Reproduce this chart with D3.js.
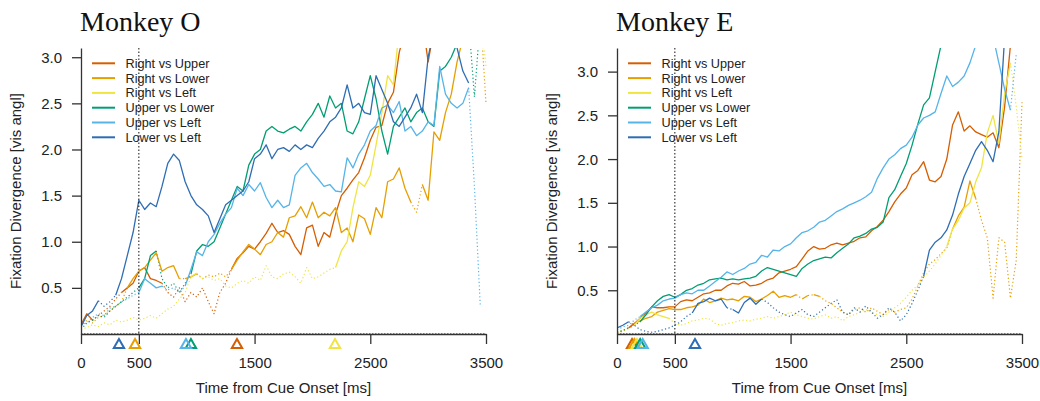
<!DOCTYPE html>
<html>
<head>
<meta charset="utf-8">
<script src="https://cdnjs.cloudflare.com/ajax/libs/d3/7.8.5/d3.min.js"></script>
<style>
body { margin: 0; background: #fff; }
svg text { font-family: "Liberation Sans", Arial, sans-serif; fill: #222; }
</style>
</head>
<body>
<svg id="chart" width="1040" height="401"></svg>
<script>
// time grid [ms]
var times = [0,50,100,150,200,250,300,350,400,450,500,550,600,650,700,750,800,850,900,950,
  1000,1050,1100,1150,1200,1250,1300,1350,1400,1450,1500,1550,1600,1650,1700,1750,1800,1850,1900,1950,
  2000,2050,2100,2150,2200,2250,2300,2350,2400,2450,2500,2550,2600,2650,2700,2750,2800,2850,2900,2950,
  3000,3050,3100,3150,3200,3250,3300,3350,3400,3450,3500];

var seriesNames = ["Right vs Upper", "Right vs Lower", "Right vs Left", "Upper vs Lower", "Upper vs Left", "Lower vs Left"];
var seriesColors = ["#D55E00", "#E69F00", "#F0E442", "#009E73", "#56B4E9", "#2E6DB4"];

var xTicks = [0, 500, 1500, 2500, 3500];
var yTicks = [0.5, 1.0, 1.5, 2.0, 2.5, 3.0];

// ---- Monkey O : fixation divergence [vis angl]
var O_RvU = [0.10,0.22,0.15,0.20,0.25,0.30,0.38,0.45,0.50,0.55,
  0.68,0.72,0.60,0.58,0.55,0.45,0.40,0.50,0.35,0.45,
  0.40,0.50,0.35,0.22,0.45,0.55,0.70,0.82,0.88,0.95,
  0.92,1.00,1.09,1.20,1.10,1.12,1.08,0.95,0.86,1.15,
  1.18,0.95,1.10,1.05,1.30,1.50,1.58,1.67,1.75,1.91,
  2.10,2.24,2.26,2.50,2.62,3.05,3.30,3.50,3.60,3.40,
  2.95,3.30,3.60,null,null,null,null,null,null,null,null];
var O_RvL = [0.08,0.15,0.12,0.18,0.20,0.25,0.30,0.35,0.50,0.60,
  0.68,0.72,0.80,0.88,0.68,0.72,0.74,0.60,0.60,0.62,
  0.65,0.60,0.64,0.62,0.66,0.62,0.70,0.80,0.89,0.97,
  0.92,0.86,0.97,1.00,1.10,1.05,1.26,1.28,1.38,1.26,
  1.43,1.26,1.32,1.28,1.37,1.10,1.15,1.00,1.29,1.25,
  1.08,1.37,1.26,1.65,1.68,1.80,1.58,1.43,1.32,1.62,
  1.45,2.19,2.10,2.40,2.60,2.95,3.20,3.50,3.60,3.50,2.50];
var O_RvLe = [0.05,0.07,0.10,0.08,0.12,0.10,0.15,0.13,0.15,0.18,
  0.15,0.17,0.20,0.17,0.22,0.27,0.30,0.38,0.45,0.62,
  0.66,0.60,0.62,0.58,0.60,0.52,0.50,0.55,0.58,0.55,
  0.62,0.58,0.74,0.62,0.60,0.65,0.67,0.62,0.55,0.72,
  0.60,0.62,0.66,0.70,0.72,0.90,1.00,1.37,1.65,1.60,
  1.72,2.05,2.40,2.80,2.70,3.30,3.50,null,null,null,
  null,null,null,null,null,null,null,null,null,3.50,2.90];
var O_UvL = [0.05,0.12,0.15,0.20,0.18,0.25,0.30,0.35,0.40,0.45,
  0.50,0.60,0.85,0.90,0.60,0.50,0.55,0.45,0.55,0.65,
  0.90,0.97,0.95,1.00,1.15,1.30,1.45,1.60,1.55,1.83,
  1.95,2.00,2.20,2.25,2.20,2.18,2.22,2.25,2.20,2.30,
  2.38,2.50,2.35,2.58,2.45,2.50,2.20,2.17,2.30,2.55,
  2.80,2.55,2.20,1.95,2.25,2.35,2.45,2.30,2.40,2.45,
  2.30,2.25,2.85,2.90,3.00,3.15,3.30,3.40,2.57,3.40,null];
var O_UvLe = [0.10,0.12,0.18,0.22,0.20,0.28,0.30,0.35,0.38,0.42,
  0.45,0.60,0.55,0.50,0.52,0.48,0.50,0.45,0.52,0.70,
  0.89,0.85,1.00,1.08,1.20,1.30,1.37,1.58,1.50,1.62,
  1.55,1.64,1.48,1.37,1.45,1.37,1.40,1.72,1.80,1.85,
  1.75,1.68,1.60,1.62,1.55,1.54,1.91,1.80,1.95,2.05,
  2.20,2.26,2.45,2.48,2.40,2.52,2.20,2.25,2.15,2.20,
  2.30,2.26,2.90,2.60,2.50,2.45,2.50,2.67,1.60,0.32,null];
var O_LvL = [0.08,0.20,0.25,0.36,0.30,0.35,0.42,0.60,0.85,1.10,
  1.45,1.35,1.42,1.38,1.60,1.85,1.95,1.88,1.65,1.50,
  1.40,1.35,1.28,1.10,1.25,1.40,1.45,1.50,1.55,1.65,
  1.90,1.95,2.05,1.90,2.00,2.02,1.98,2.05,2.00,2.05,
  2.02,2.12,2.20,2.30,2.35,2.45,2.70,2.45,2.50,2.40,
  2.38,2.80,2.65,2.50,2.30,2.25,2.35,2.45,2.60,2.40,
  3.00,3.30,3.40,3.50,3.30,3.10,2.85,2.72,null,null,null];

// significant stretches (drawn solid), [from, to] in ms
var O_sig = [
  [[0,80],[330,700],[1300,3150]],
  [[390,860],[880,1010],[1300,2870],[2930,3420]],
  [[930,1010],[2190,3400]],
  [[520,660],[940,3320]],
  [[520,720],[900,3350]],
  [[0,170],[320,3360]]
];
var O_onset = [1348, 467, 2195, 950, 907, 328];

// ---- Monkey E
var E_RvU = [0.02,0.03,0.07,0.12,0.18,0.24,0.31,0.30,0.30,0.31,
  0.31,0.37,0.39,0.38,0.42,0.46,0.47,0.50,0.50,0.55,
  0.58,0.57,0.60,0.55,0.56,0.58,0.62,0.64,0.70,0.72,
  0.74,0.77,0.86,0.95,1.00,0.97,0.98,1.02,1.04,1.02,
  1.04,1.06,1.10,1.11,1.18,1.23,1.30,1.40,1.51,1.60,
  1.67,1.82,1.87,1.97,1.76,1.74,1.80,2.00,2.39,2.54,
  2.32,2.38,2.31,2.28,2.25,2.30,2.13,2.60,3.30,3.50,null];
var E_RvL = [0.02,0.04,0.07,0.12,0.15,0.18,0.20,0.25,0.27,0.29,
  0.28,0.28,0.30,0.31,0.33,0.40,0.36,0.38,0.41,0.39,
  0.40,0.38,0.43,0.42,0.37,0.40,0.44,0.49,0.42,0.44,
  0.42,0.45,0.40,0.44,0.45,0.43,0.38,0.35,0.30,0.25,
  0.22,0.28,0.30,0.25,0.30,0.26,0.22,0.28,0.25,0.28,
  0.30,0.40,0.55,0.70,0.80,0.85,0.92,0.98,1.20,1.35,
  1.45,1.75,1.55,1.30,1.10,0.41,1.10,1.05,0.41,0.84,2.65];
var E_RvLe = [0.02,0.04,0.06,0.10,0.18,0.22,0.25,0.22,0.20,0.18,
  0.12,0.10,0.12,0.15,0.16,0.18,0.17,0.12,0.10,0.12,
  0.13,0.15,0.16,0.15,0.17,0.18,0.20,0.18,0.20,0.22,
  0.25,0.22,0.20,0.18,0.17,0.20,0.22,0.18,0.20,0.15,
  0.20,0.22,0.25,0.28,0.25,0.22,0.20,0.25,0.30,0.35,
  0.42,0.50,0.56,0.65,0.72,0.80,0.90,1.00,1.20,1.30,
  1.44,1.50,1.74,1.90,2.30,2.50,2.18,2.75,3.10,2.60,2.00];
var E_UvL = [0.02,0.04,0.07,0.10,0.14,0.22,0.31,0.38,0.43,0.45,
  0.42,0.45,0.50,0.52,0.56,0.58,0.62,0.63,0.64,0.62,
  0.63,0.62,0.63,0.64,0.66,0.72,0.76,0.74,0.72,0.70,
  0.68,0.66,0.75,0.80,0.84,0.86,0.88,0.87,0.93,0.98,
  1.03,1.10,1.12,1.15,1.20,1.22,1.28,1.56,1.65,1.80,
  1.95,2.16,2.40,2.62,2.70,3.00,3.30,3.60,null,null,
  null,null,null,null,null,null,null,null,null,null,null];
var E_UvLe = [0.05,0.08,0.10,0.16,0.20,0.25,0.30,0.33,0.38,0.40,
  0.41,0.45,0.47,0.46,0.50,0.50,0.55,0.60,0.65,0.71,
  0.68,0.72,0.75,0.80,0.82,0.90,0.88,0.96,0.95,1.00,
  1.03,1.10,1.16,1.18,1.22,1.28,1.30,1.35,1.40,1.43,
  1.47,1.50,1.53,1.57,1.62,1.78,1.90,2.00,2.05,2.12,
  2.16,2.25,2.39,2.47,2.50,2.54,2.75,2.95,2.83,2.88,
  2.95,3.10,3.30,3.50,3.60,3.40,3.10,2.80,2.56,3.20,null];
var E_LvL = [0.07,0.10,0.14,0.10,0.05,0.03,0.02,0.03,0.05,0.07,
  0.10,0.14,0.20,0.24,0.35,0.37,0.41,0.38,0.40,0.30,
  0.28,0.24,0.36,0.41,0.34,0.40,0.36,0.30,0.25,0.22,
  0.20,0.24,0.28,0.22,0.20,0.25,0.30,0.35,0.39,0.25,
  0.22,0.30,0.25,0.32,0.25,0.18,0.22,0.30,0.25,0.15,
  0.22,0.35,0.50,0.66,0.96,1.05,1.10,1.19,1.36,1.60,
  1.80,1.95,2.10,2.20,2.10,1.97,2.31,3.40,3.50,3.30,null];

var E_sig = [
  [[110,3450]],
  [[140,1560],[1590,1640],[1690,1740],[2880,3080]],
  [[160,450],[2860,3420]],
  [[200,3400]],
  [[220,3420]],
  [[0,110],[650,950],[1000,1270],[2630,3450]]
];
var E_onset = [130, 150, 172, 200, 222, 674];

var svg = d3.select("#chart");

function isSolid(sig, t) {
  return sig.some(function(iv) { return t >= iv[0] && t <= iv[1]; });
}

// split a series into runs of solid / dotted pieces
function pieces(values, sig) {
  var out = [];
  var cur = null;
  for (var i = 0; i < times.length - 1; i++) {
    if (values[i] == null || values[i + 1] == null) { cur = null; continue; }
    var s = isSolid(sig, (times[i] + times[i + 1]) / 2);
    if (!cur || cur.solid != s) {
      cur = {solid: s, idx: [i]};
      out.push(cur);
    }
    cur.idx.push(i + 1);
  }
  return out;
}

function drawPanel(p) {
  var x = d3.scaleLinear().domain([0, 3500]).range([p.left, p.left + 405]);
  var y = d3.scaleLinear().domain([0, p.ymax]).range([334, 48]);
  var g = svg.append("g");

  g.append("clipPath").attr("id", p.id + "clip")
    .append("rect").attr("x", p.left).attr("y", 48).attr("width", 406).attr("height", 286);

  g.append("text")
    .attr("x", p.left - 1).attr("y", 31)
    .style("font-family", '"Liberation Serif", "Times New Roman", serif')
    .style("font-size", "28px").style("fill", "#111")
    .text(p.title);

  var plot = g.append("g").attr("clip-path", "url(#" + p.id + "clip)");
  var line = d3.line()
    .x(function(i) { return x(times[i]); })
    .y(function(i) { return y(p.series[this_k][i]); });

  var all = [];
  p.series.forEach(function(vals, k) {
    pieces(vals, p.sig[k]).forEach(function(pc) { pc.k = k; all.push(pc); });
  });
  // dotted first, solid on top
  all.sort(function(a, b) { return (a.solid ? 1 : 0) - (b.solid ? 1 : 0); });

  all.forEach(function(pc) {
    var vals = p.series[pc.k];
    var path = d3.line()
      .x(function(i) { return x(times[i]); })
      .y(function(i) { return y(vals[i]); });
    plot.append("path")
      .attr("d", path(pc.idx))
      .attr("fill", "none")
      .attr("stroke", seriesColors[pc.k])
      .attr("stroke-width", pc.solid ? 1.3 : 1.2)
      .attr("stroke-dasharray", pc.solid ? null : "1.2,2.4")
      .attr("stroke-linejoin", "round");
  });

  // cue offset marker at 500 ms and zero line
  g.append("line")
    .attr("x1", x(500)).attr("x2", x(500)).attr("y1", 48).attr("y2", 334)
    .attr("stroke", "#111").attr("stroke-width", 1).attr("stroke-dasharray", "1.5,2");
  g.append("line")
    .attr("x1", x(0)).attr("x2", x(3500)).attr("y1", y(0)).attr("y2", y(0))
    .attr("stroke", "#111").attr("stroke-width", 1).attr("stroke-dasharray", "1.5,1.5");

  var xAxis = g.append("g").attr("transform", "translate(0,334)")
    .call(d3.axisBottom(x).tickValues(xTicks).tickFormat(d3.format("d"))
      .tickSize(10).tickSizeOuter(0).tickPadding(13));
  var yAxis = g.append("g").attr("transform", "translate(" + p.left + ",0)")
    .call(d3.axisLeft(y).tickValues(yTicks).tickFormat(d3.format(".1f"))
      .tickSize(9).tickSizeOuter(0).tickPadding(10));
  [xAxis, yAxis].forEach(function(a) {
    a.selectAll("path, line").attr("stroke", "#333").attr("stroke-width", 1.3);
    a.selectAll("text").style("font-size", "15px").style("fill", "#222")
      .style("font-family", '"Liberation Sans", Arial, sans-serif');
  });
  yAxis.selectAll("text").attr("dy", "0.34em");

  g.append("text")
    .attr("x", x(1750)).attr("y", 393)
    .attr("text-anchor", "middle").style("font-size", "15px")
    .text("Time from Cue Onset [ms]");
  g.append("text")
    .attr("transform", "translate(" + (p.left - 60) + ",191) rotate(-90)")
    .attr("text-anchor", "middle").style("font-size", "15px")
    .text("Fixation Divergence [vis angl]");

  // first significant time
  var tri = d3.symbol().type(d3.symbolTriangle).size(46);
  p.onset.forEach(function(t, k) {
    g.append("path")
      .attr("d", tri())
      .attr("transform", "translate(" + x(t) + ",345)")
      .attr("fill", "none")
      .attr("stroke", seriesColors[k])
      .attr("stroke-width", 2);
  });

  // legend
  var leg = g.append("g");
  seriesNames.forEach(function(name, k) {
    var ly = 63.3 + k * 14.8;
    leg.append("line")
      .attr("x1", p.left + 11).attr("x2", p.left + 34).attr("y1", ly).attr("y2", ly)
      .attr("stroke", seriesColors[k]).attr("stroke-width", 2);
    leg.append("text")
      .attr("x", p.left + 44.5).attr("y", ly).attr("dy", "0.35em")
      .style("font-size", "12.7px")
      .text(name);
  });
}

var this_k = 0;

drawPanel({id: "o", title: "Monkey O", left: 81, ymax: 3.1,
  series: [O_RvU, O_RvL, O_RvLe, O_UvL, O_UvLe, O_LvL], sig: O_sig, onset: O_onset});
drawPanel({id: "e", title: "Monkey E", left: 617, ymax: 3.27,
  series: [E_RvU, E_RvL, E_RvLe, E_UvL, E_UvLe, E_LvL], sig: E_sig, onset: E_onset});
</script>
</body>
</html>
